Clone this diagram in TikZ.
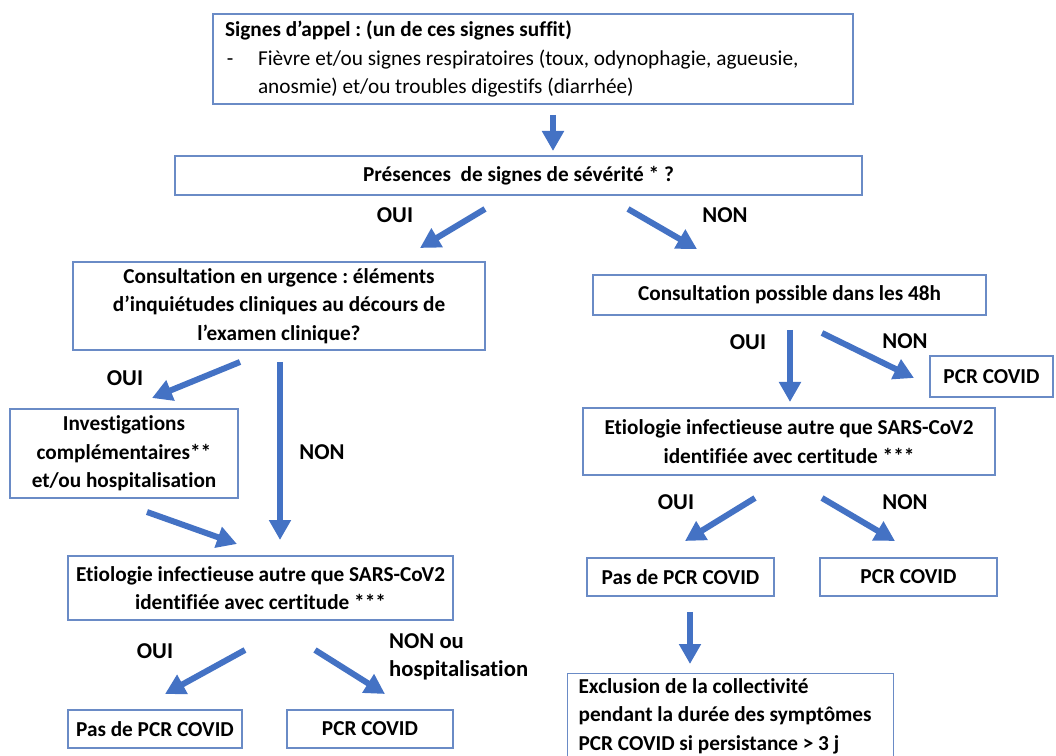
\documentclass[tikz,border=0pt]{standalone}
\usepackage{fontspec}
\setmainfont[Ligatures={NoCommon}]{Carlito}
\usetikzlibrary{arrows.meta}
\definecolor{arrblue}{HTML}{4472C4}
\definecolor{boxblue}{HTML}{6A8BC6}
\frenchspacing

\tikzset{
  box/.style={draw=boxblue, line width=0.7pt, align=center, inner sep=0pt,
    font=\bfseries\fontsize{12.1}{16.2}\selectfont},
  lbl/.style={font=\bfseries\fontsize{12.9}{16.2}\selectfont},
  arr/.style={draw=arrblue, line width=0.12cm, -{Triangle[length=0.4cm,width=0.42cm]}},
}

\begin{document}
\begin{tikzpicture}[x=0.02cm,y=-0.02cm]
\useasboundingbox (0,0) rectangle (1056,756);

% boxes
\node[box, align=flush left, font=\fontsize{12.1}{16.2}\selectfont, text width=12.32cm,
  minimum height=1.8cm, inner xsep=0.24cm] (sig) at (533,59)
  {\textbf{Signes d’appel : (un de ces signes suffit)}\\
   \makebox[0.66cm][l]{\hspace{1pt}-}Fièvre et/ou signes respiratoires (toux, odynophagie, agueusie,\\
   \hspace*{0.66cm}anosmie) et/ou troubles digestifs (diarrhée)};
\node[box, minimum width=13.74cm, minimum height=0.78cm] (pres) at (518.5,175.5)
  {Présences\ \ de signes de sévérité * ?};
\node[box, minimum width=8.24cm, minimum height=1.76cm] (urg) at (279,306)
  {Consultation en urgence : éléments\\ d’inquiétudes cliniques au décours de\\ l’examen clinique?};
\node[box, minimum width=7.86cm, minimum height=0.8cm] (poss) at (789.5,295)
  {Consultation possible dans les 48h};
\node[box, minimum width=2.46cm, minimum height=0.82cm] (pcrA) at (991.5,376.5)
  {PCR COVID};
\node[box, minimum width=8.24cm, minimum height=1.34cm] (etioR) at (789,441.5)
  {Etiologie infectieuse autre que SARS-CoV2\\ identifiée avec certitude ***};
\node[box, minimum width=4.56cm, minimum height=1.78cm] (inv) at (124,453.5)
  {Investigations\\ complémentaires**\\ et/ou hospitalisation};
\node[box, minimum width=7.7cm, minimum height=1.28cm] (etioL) at (260.5,588)
  {Etiologie infectieuse autre que SARS-CoV2\\ identifiée avec certitude ***};
\node[box, minimum width=3.48cm, minimum height=0.76cm] (pasL) at (155,729)
  {Pas de PCR COVID};
\node[box, minimum width=3.32cm, minimum height=0.76cm] (pcrL) at (370,729)
  {PCR COVID};
\node[box, minimum width=3.74cm, minimum height=0.76cm] (pasR) at (680.5,577)
  {Pas de PCR COVID};
\node[box, minimum width=3.54cm, minimum height=0.76cm] (pcrR) at (908.5,577)
  {PCR COVID};
\node[box, anchor=north west, align=flush left, text width=6.08cm, inner xsep=0.22cm,
  inner ysep=0.1cm] (excl) at (567,673)
  {Exclusion de la collectivité\\ pendant la durée des symptômes\\ PCR COVID si persistance > 3 j};

% labels
\node[lbl] (o1) at (395,215) {OUI};
\node[lbl] (n1) at (725,215) {NON};
\node[lbl] (o2) at (748,342) {OUI};
\node[lbl] (n2) at (905,341) {NON};
\node[lbl] (o3) at (125,378) {OUI};
\node[lbl] (n3) at (322,452) {NON};
\node[lbl] (o4) at (155,651) {OUI};
\node[lbl, anchor=west, align=flush left] (n4) at (383,657) {NON ou\\ hospitalisation};
\node[lbl] (o5) at (676,502) {OUI};
\node[lbl] (n5) at (905,502) {NON};

% arrow ends
\coordinate (a1) at (553,115);  \coordinate (b1) at (553,151);
\coordinate (a2) at (485,209);  \coordinate (b2) at (420,248);
\coordinate (a3) at (628,209);  \coordinate (b3) at (697,249);
\coordinate (a4) at (790,330);  \coordinate (b4) at (790,402);
\coordinate (a5) at (822,333);  \coordinate (b5) at (914,378);
\coordinate (a6) at (240,362);  \coordinate (b6) at (152,398);
\coordinate (a7) at (280,362);  \coordinate (b7) at (280,540);
\coordinate (a8) at (147,512);  \coordinate (b8) at (237,544);
\coordinate (a9) at (245,650);  \coordinate (b9) at (165,694);
\coordinate (a10) at (315,650); \coordinate (b10) at (385,694);
\coordinate (a11) at (755,498); \coordinate (b11) at (685,541);
\coordinate (a12) at (822,498); \coordinate (b12) at (895,541);
\coordinate (a13) at (690,612); \coordinate (b13) at (690,664);

\foreach \i in {1,...,13}
  \draw[arr] (a\i) -- (b\i);
\end{tikzpicture}
\end{document}
